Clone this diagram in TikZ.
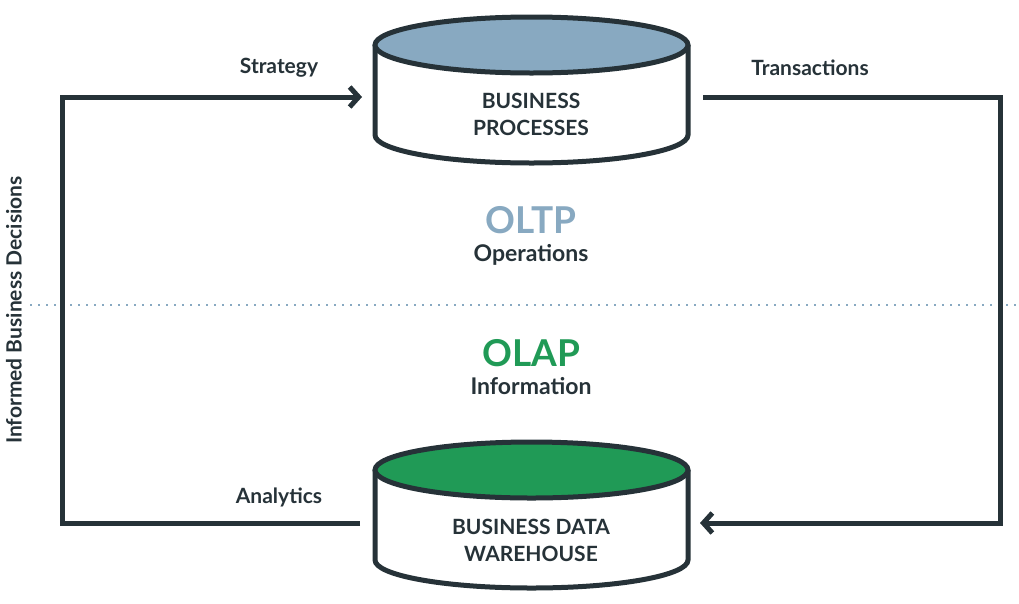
\documentclass[tikz,border=0pt]{standalone}
\usepackage{fontspec}
\setmainfont{Lato}
\usetikzlibrary{arrows.meta}
\definecolor{dk}{HTML}{263238}
\definecolor{bl}{HTML}{88A9C1}
\definecolor{gr}{HTML}{209A56}
\begin{document}
\begin{tikzpicture}[x=1pt,y=-1pt,
  wire/.style={draw=dk,line width=5pt,line join=miter},
  arr/.style={wire,-{Straight Barb[length=9pt,width=20pt,line width=5pt]}},
  lab/.style={font=\fontsize{21}{23}\selectfont\bfseries,text=dk},
  cyl/.style={font=\fontsize{21}{27}\selectfont\bfseries,text=dk,align=center},
  big/.style={font=\fontsize{37}{40}\selectfont\bfseries}]
\useasboundingbox (0,0) rectangle (1019,603);
% cylinders
\foreach \cy/\col in {45/bl,470/gr}{
  \fill[white] (375,\cy) -- (375,\cy+90) arc[start angle=180,end angle=0,x radius=156.5,y radius=28] -- (688,\cy) -- cycle;
  \draw[wire] (375,\cy) -- (375,\cy+90) arc[start angle=180,end angle=0,x radius=156.5,y radius=28] -- (688,\cy);
  \draw[wire,fill=\col] (531.5,\cy) ellipse[x radius=156.5,y radius=28];
}
\node[cyl] (bp) at (531,114) {BUSINESS\\PROCESSES};
\node[cyl] (dw) at (531,540) {BUSINESS DATA\\WAREHOUSE};
% dotted divider
\coordinate (dl) at (30,305); \coordinate (dr) at (1019,305);
\draw[bl,line width=2pt,dash pattern=on 2pt off 6pt] (dl) -- (dr);
\node[big,text=bl] (oltp) at (531,220) {OLTP};
\node[lab,font=\fontsize{23}{25}\selectfont\bfseries] (ops) at (531,255) {Operations};
\node[big,text=gr] (olap) at (531,353) {OLAP};
\node[lab,font=\fontsize{23}{25}\selectfont\bfseries] (inf) at (531,386) {Information};
% connectors
\coordinate (a1) at (360,523); \coordinate (a2) at (62,523);
\coordinate (a3) at (62,97); \coordinate (a4) at (362,97);
\draw[arr] (a1) -- (a2) -- (a3) -- (a4);
\coordinate (b1) at (703,97); \coordinate (b2) at (1000,97);
\coordinate (b3) at (1000,523); \coordinate (b4) at (700,523);
\draw[arr] (b1) -- (b2) -- (b3) -- (b4);
\node[lab] (st) at (279,68) {Strategy};
\node[lab] (tr) at (810,68) {Transactions};
\node[lab] (an) at (279,497) {Analytics};
\node[lab,rotate=90] (ibd) at (14,310) {Informed Business Decisions};
\end{tikzpicture}
\end{document}
